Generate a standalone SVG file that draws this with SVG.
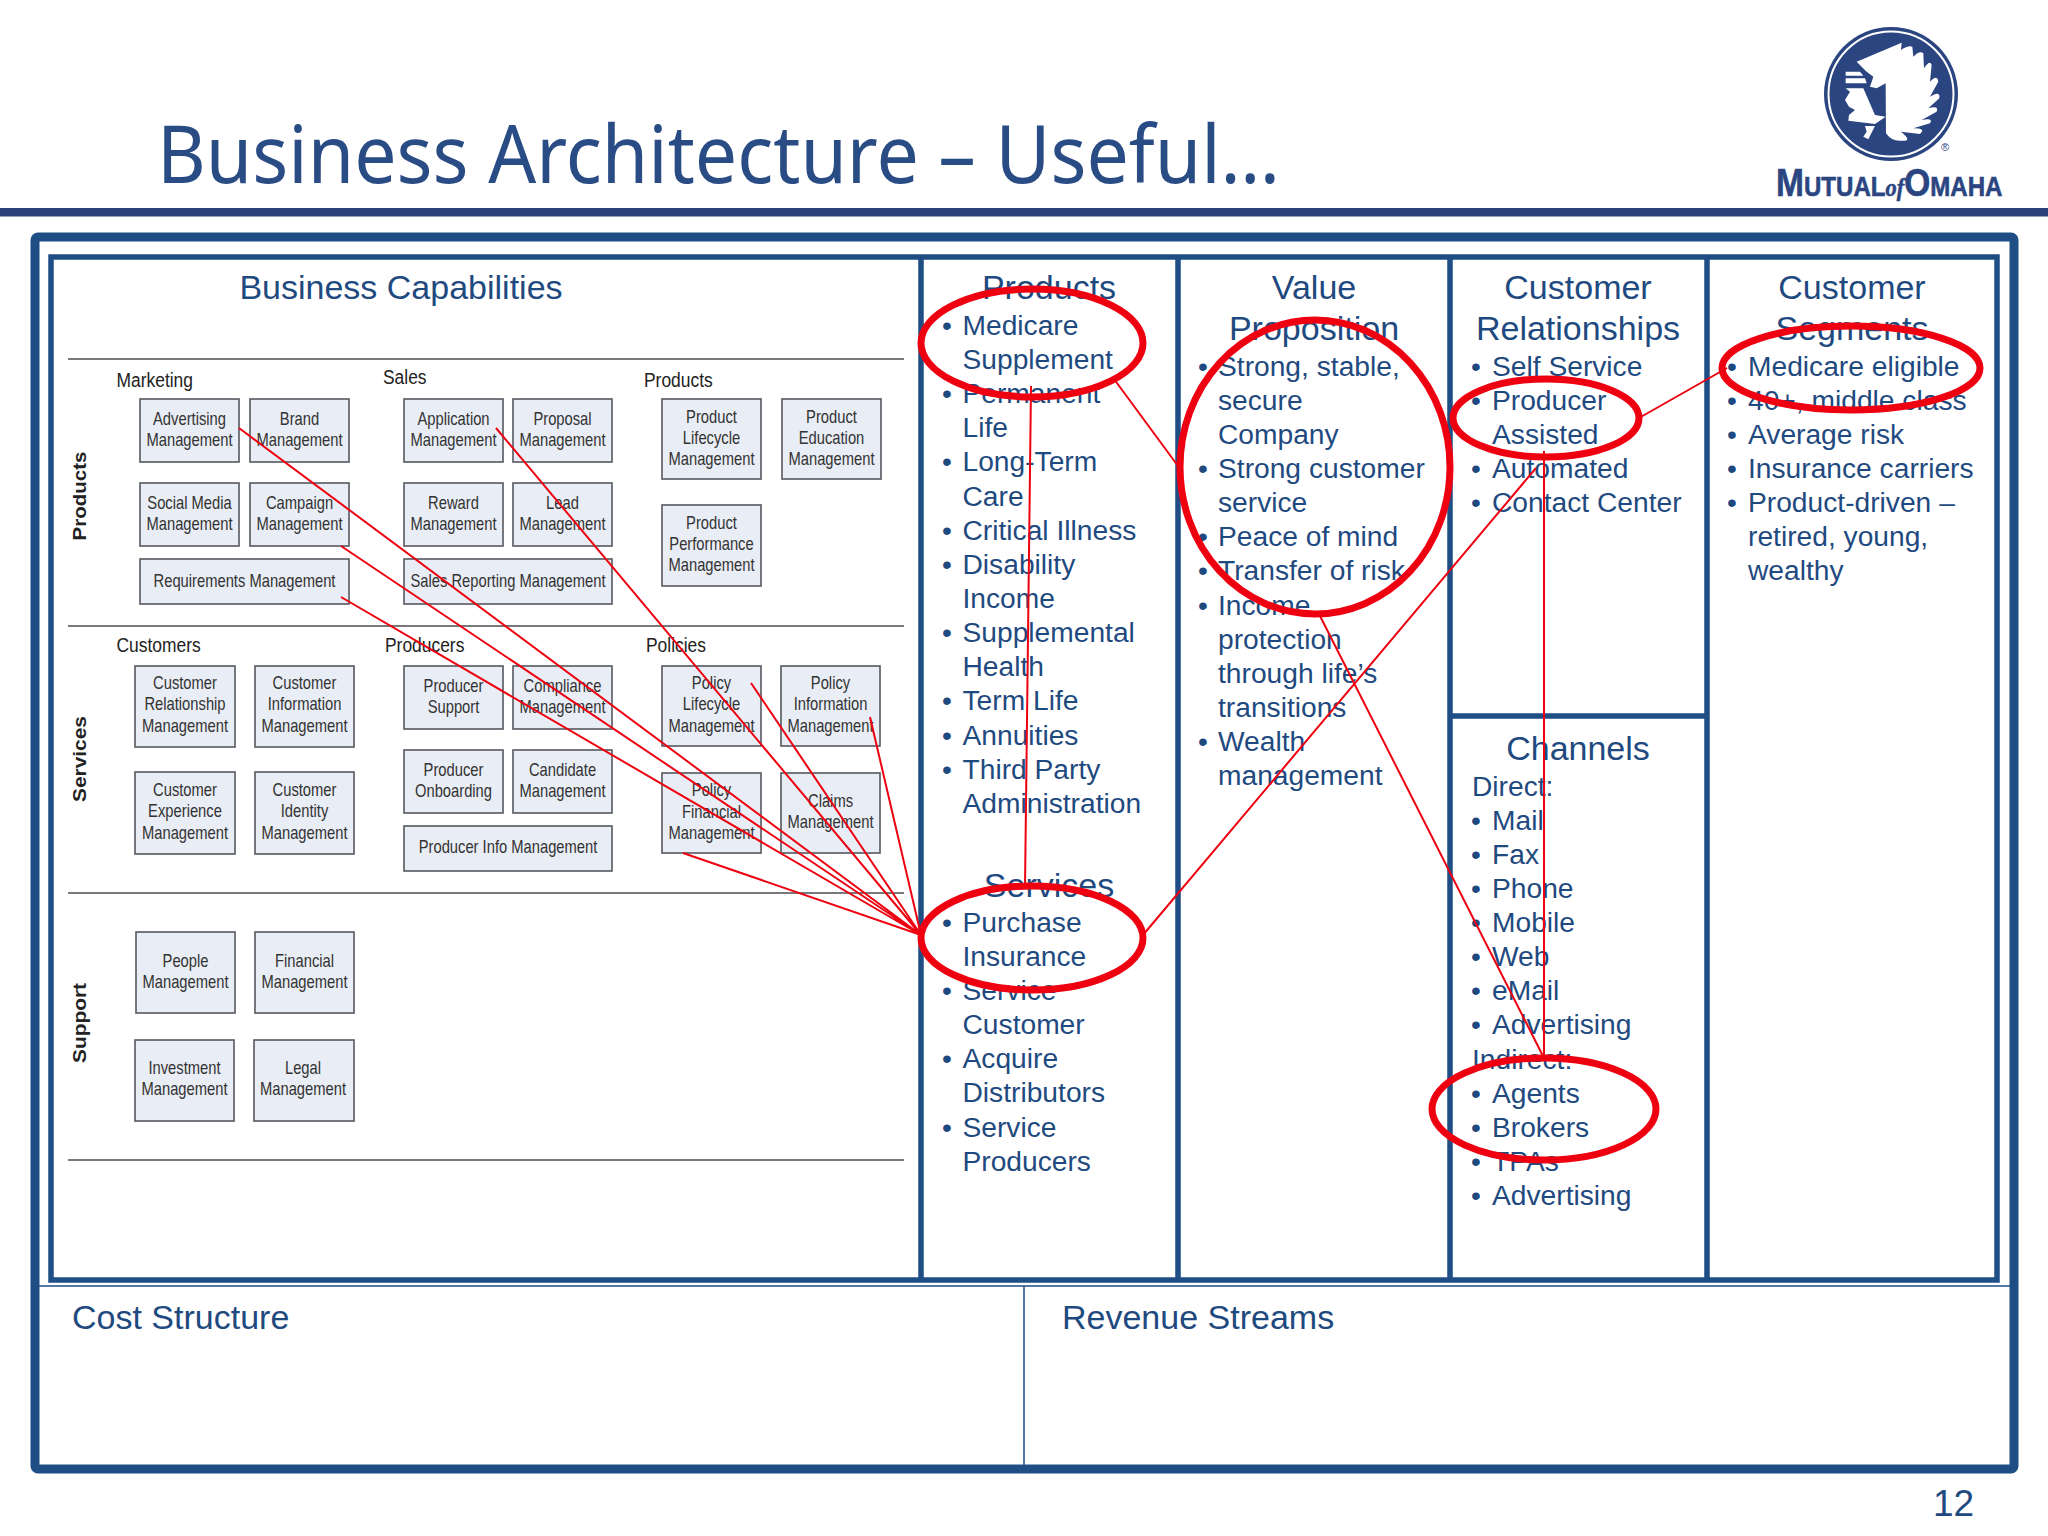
<svg xmlns="http://www.w3.org/2000/svg" width="2048" height="1536" viewBox="0 0 2048 1536">
<style>
text{font-family:"Liberation Sans",Arial,sans-serif}
.h{font-size:34px;fill:#1f4a80;text-anchor:middle}
.b{font-size:28.2px;fill:#1f4a80}
.f{font-size:34px;fill:#1f4a80}
.frame{fill:none;stroke:#1f4e85}
.box{fill:#e9edf5;stroke:#55585f;stroke-width:1.6}
.t{font-size:18px;fill:#333;text-anchor:middle}
.s{font-size:21px;fill:#222}
.r{font-size:18px;font-weight:bold;fill:#222;text-anchor:middle}
.sep{stroke:#77797c;stroke-width:2}
.red{fill:none;stroke:#ee0010;stroke-width:7}
.ln{stroke:#ee0010;stroke-width:2;fill:none}
.lg{fill:#2b4581}
</style>
<rect width="2048" height="1536" fill="#fff"/>
<g id="header">
<text x="157" y="183" style="font-family:'Noto Sans',sans-serif" font-size="80" fill="#2a4c85" textLength="1123" lengthAdjust="spacingAndGlyphs">Business Architecture – Useful…</text>
<rect x="0" y="208" width="2048" height="8.5" fill="#2b3f78"/>
</g>
<g id="logo">
<circle cx="1891" cy="94" r="67" class="lg"/>
<circle cx="1891" cy="94" r="62.500" fill="none" stroke="#fff" stroke-width="2"/>
<g transform="translate(1700,0) scale(.3333)" fill="#fff">
<path d="M470 185L605 128L603 150Q625 135 637 140L640 170Q660 150 670 160L672 205Q690 178 695 195L690 245Q712 222 715 245L690 290Q722 270 718 295L685 325Q718 315 710 335L665 360Q702 352 690 370L640 385Q680 385 660 402L603 395Q640 425 605 422Q575 425 558 400L557 250L530 265L510 260L520 230L500 215Z"/>
<path d="M437 265L490 265L525 345L557 350L525 372L445 362L447 345L465 330L447 320L435 300L450 275Z"/>
<path d="M437 215L480 215L490 227L437 227ZM437 235L495 235L500 250L437 250ZM495 378L525 378L505 418L490 410L500 395Z"/>
</g>
<text x="1941" y="151" font-size="11" fill="#2b4581">®</text>
<text transform="translate(1776 196) scale(.86 1)" font-weight="bold" fill="#2b4581" stroke="#2b4581" stroke-width=".6">
<tspan x="0" font-size="39">M</tspan><tspan font-size="28">UTUAL</tspan><tspan font-size="26" font-style="italic" style="font-family:'Liberation Serif',serif">of</tspan><tspan font-size="39">O</tspan><tspan font-size="28">MAHA</tspan></text>
</g>
<g id="canvas">
<rect x="35" y="237" width="1979" height="1232" class="frame" stroke-width="9" rx="3"/>
<rect x="51" y="257" width="1946" height="1023" class="frame" stroke-width="5.500"/>
<path class="frame" stroke-width="5.500" d="M921 257V1280M1178 257V1280M1450 257V1280M1707 257V1280M1450 716H1707"/>
<path class="frame" stroke-width="1.500" d="M35 1286H2014M1024 1286V1469"/>
</g>
<g id="business-capabilities">
<text class="h" x="401" y="299">Business Capabilities</text>
<path class="sep" d="M68 359H904M68 626H904M68 893H904M68 1160H904"/>
<text class="r" transform="translate(86,496) rotate(-90)" textLength="89" lengthAdjust="spacingAndGlyphs">Products</text>
<text class="r" transform="translate(86,759) rotate(-90)" textLength="86" lengthAdjust="spacingAndGlyphs">Services</text>
<text class="r" transform="translate(86,1023) rotate(-90)" textLength="80" lengthAdjust="spacingAndGlyphs">Support</text>
<text class="s" transform="translate(116.500 387) scale(.83 1)">Marketing</text>
<text class="s" transform="translate(383 384) scale(.83 1)">Sales</text>
<text class="s" transform="translate(644 387) scale(.83 1)">Products</text>
<text class="s" transform="translate(116.500 652) scale(.83 1)">Customers</text>
<text class="s" transform="translate(385 652) scale(.83 1)">Producers</text>
<text class="s" transform="translate(646 652) scale(.83 1)">Policies</text>
</g>
<g id="n-advertising"><rect class="box" x="140" y="399" width="99" height="63"/><text class="t" transform="translate(189.500 -1) scale(.82 1)"><tspan x="0" y="426">Advertising</tspan><tspan x="0" y="447">Management</tspan></text></g>
<g id="n-brand"><rect class="box" x="250" y="399" width="99" height="63"/><text class="t" transform="translate(299.500 -1) scale(.82 1)"><tspan x="0" y="426">Brand</tspan><tspan x="0" y="447">Management</tspan></text></g>
<g id="n-social"><rect class="box" x="140" y="483" width="99" height="63"/><text class="t" transform="translate(189.500 -1) scale(.82 1)"><tspan x="0" y="510">Social Media</tspan><tspan x="0" y="531">Management</tspan></text></g>
<g id="n-campaign"><rect class="box" x="250" y="483" width="99" height="63"/><text class="t" transform="translate(299.500 -1) scale(.82 1)"><tspan x="0" y="510">Campaign</tspan><tspan x="0" y="531">Management</tspan></text></g>
<g id="n-requirements"><rect class="box" x="140" y="559" width="209" height="45"/><text class="t" transform="translate(244.500 587) scale(.82 1)">Requirements Management</text></g>
<g id="n-application"><rect class="box" x="404" y="399" width="99" height="63"/><text class="t" transform="translate(453.500 -1) scale(.82 1)"><tspan x="0" y="426">Application</tspan><tspan x="0" y="447">Management</tspan></text></g>
<g id="n-proposal"><rect class="box" x="513" y="399" width="99" height="63"/><text class="t" transform="translate(562.500 -1) scale(.82 1)"><tspan x="0" y="426">Proposal</tspan><tspan x="0" y="447">Management</tspan></text></g>
<g id="n-reward"><rect class="box" x="404" y="483" width="99" height="63"/><text class="t" transform="translate(453.500 -1) scale(.82 1)"><tspan x="0" y="510">Reward</tspan><tspan x="0" y="531">Management</tspan></text></g>
<g id="n-lead"><rect class="box" x="513" y="483" width="99" height="63"/><text class="t" transform="translate(562.500 -1) scale(.82 1)"><tspan x="0" y="510">Lead</tspan><tspan x="0" y="531">Management</tspan></text></g>
<g id="n-sales-reporting"><rect class="box" x="404" y="559" width="208" height="45"/><text class="t" transform="translate(508 587) scale(.82 1)">Sales Reporting Management</text></g>
<g id="n-product-lifecycle"><rect class="box" x="662" y="399" width="99" height="80"/><text class="t" transform="translate(711.500 -1) scale(.82 1)"><tspan x="0" y="424">Product</tspan><tspan x="0" y="445">Lifecycle</tspan><tspan x="0" y="466">Management</tspan></text></g>
<g id="n-product-education"><rect class="box" x="782" y="399" width="99" height="80"/><text class="t" transform="translate(831.500 -1) scale(.82 1)"><tspan x="0" y="424">Product</tspan><tspan x="0" y="445">Education</tspan><tspan x="0" y="466">Management</tspan></text></g>
<g id="n-product-performance"><rect class="box" x="662" y="505" width="99" height="81"/><text class="t" transform="translate(711.500 -1) scale(.82 1)"><tspan x="0" y="530">Product</tspan><tspan x="0" y="551">Performance</tspan><tspan x="0" y="572">Management</tspan></text></g>
<g id="n-customer-relationship"><rect class="box" x="135" y="666" width="100" height="81"/><text class="t" transform="translate(185 -1) scale(.82 1)"><tspan x="0" y="690">Customer</tspan><tspan x="0" y="711">Relationship</tspan><tspan x="0" y="733">Management</tspan></text></g>
<g id="n-customer-information"><rect class="box" x="255" y="666" width="99" height="81"/><text class="t" transform="translate(304.500 -1) scale(.82 1)"><tspan x="0" y="690">Customer</tspan><tspan x="0" y="711">Information</tspan><tspan x="0" y="733">Management</tspan></text></g>
<g id="n-customer-experience"><rect class="box" x="135" y="772" width="100" height="82"/><text class="t" transform="translate(185 -1) scale(.82 1)"><tspan x="0" y="797">Customer</tspan><tspan x="0" y="818">Experience</tspan><tspan x="0" y="840">Management</tspan></text></g>
<g id="n-customer-identity"><rect class="box" x="255" y="772" width="99" height="82"/><text class="t" transform="translate(304.500 -1) scale(.82 1)"><tspan x="0" y="797">Customer</tspan><tspan x="0" y="818">Identity</tspan><tspan x="0" y="840">Management</tspan></text></g>
<g id="n-producer-support"><rect class="box" x="404" y="666" width="99" height="63"/><text class="t" transform="translate(453.500 -1) scale(.82 1)"><tspan x="0" y="693">Producer</tspan><tspan x="0" y="714">Support</tspan></text></g>
<g id="n-compliance"><rect class="box" x="513" y="666" width="99" height="63"/><text class="t" transform="translate(562.500 -1) scale(.82 1)"><tspan x="0" y="693">Compliance</tspan><tspan x="0" y="714">Management</tspan></text></g>
<g id="n-producer-onboarding"><rect class="box" x="404" y="750" width="99" height="63"/><text class="t" transform="translate(453.500 -1) scale(.82 1)"><tspan x="0" y="777">Producer</tspan><tspan x="0" y="798">Onboarding</tspan></text></g>
<g id="n-candidate"><rect class="box" x="513" y="750" width="99" height="63"/><text class="t" transform="translate(562.500 -1) scale(.82 1)"><tspan x="0" y="777">Candidate</tspan><tspan x="0" y="798">Management</tspan></text></g>
<g id="n-producer-info"><rect class="box" x="404" y="826" width="208" height="45"/><text class="t" transform="translate(508 853) scale(.82 1)">Producer Info Management</text></g>
<g id="n-policy-lifecycle"><rect class="box" x="662" y="666" width="99" height="80"/><text class="t" transform="translate(711.500 -1) scale(.82 1)"><tspan x="0" y="690">Policy</tspan><tspan x="0" y="711">Lifecycle</tspan><tspan x="0" y="733">Management</tspan></text></g>
<g id="n-policy-information"><rect class="box" x="781" y="666" width="99" height="80"/><text class="t" transform="translate(830.500 -1) scale(.82 1)"><tspan x="0" y="690">Policy</tspan><tspan x="0" y="711">Information</tspan><tspan x="0" y="733">Management</tspan></text></g>
<g id="n-policy-financial"><rect class="box" x="662" y="773" width="99" height="80"/><text class="t" transform="translate(711.500 -1) scale(.82 1)"><tspan x="0" y="797">Policy</tspan><tspan x="0" y="819">Financial</tspan><tspan x="0" y="840">Management</tspan></text></g>
<g id="n-claims"><rect class="box" x="781" y="773" width="99" height="80"/><text class="t" transform="translate(830.500 -1) scale(.82 1)"><tspan x="0" y="808">Claims</tspan><tspan x="0" y="829">Management</tspan></text></g>
<g id="n-people"><rect class="box" x="136" y="932" width="99" height="81"/><text class="t" transform="translate(185.500 -1) scale(.82 1)"><tspan x="0" y="968">People</tspan><tspan x="0" y="989">Management</tspan></text></g>
<g id="n-financial"><rect class="box" x="255" y="932" width="99" height="81"/><text class="t" transform="translate(304.500 -1) scale(.82 1)"><tspan x="0" y="968">Financial</tspan><tspan x="0" y="989">Management</tspan></text></g>
<g id="n-investment"><rect class="box" x="135" y="1040" width="99" height="81"/><text class="t" transform="translate(184.500 -1) scale(.82 1)"><tspan x="0" y="1075">Investment</tspan><tspan x="0" y="1096">Management</tspan></text></g>
<g id="n-legal"><rect class="box" x="254" y="1040" width="100" height="81"/><text class="t" transform="translate(303 -1) scale(.82 1)"><tspan x="0" y="1075">Legal</tspan><tspan x="0" y="1096">Management</tspan></text></g>
<g id="products-col">
<text class="h" x="1049" y="299">Products</text>
<text class="b">
<tspan x="942" y="335">•</tspan><tspan x="962.500">Medicare</tspan>
<tspan x="962.500" y="369">Supplement</tspan>
<tspan x="942" y="403">•</tspan><tspan x="962.500">Permanent</tspan>
<tspan x="962.500" y="437">Life</tspan>
<tspan x="942" y="471">•</tspan><tspan x="962.500">Long-Term</tspan>
<tspan x="962.500" y="506">Care</tspan>
<tspan x="942" y="540">•</tspan><tspan x="962.500">Critical Illness</tspan>
<tspan x="942" y="574">•</tspan><tspan x="962.500">Disability</tspan>
<tspan x="962.500" y="608">Income</tspan>
<tspan x="942" y="642">•</tspan><tspan x="962.500">Supplemental</tspan>
<tspan x="962.500" y="676">Health</tspan>
<tspan x="942" y="710">•</tspan><tspan x="962.500">Term Life</tspan>
<tspan x="942" y="745">•</tspan><tspan x="962.500">Annuities</tspan>
<tspan x="942" y="779">•</tspan><tspan x="962.500">Third Party</tspan>
<tspan x="962.500" y="813">Administration</tspan>
</text>
<text class="h" x="1049" y="897">Services</text>
<text class="b">
<tspan x="942" y="932">•</tspan><tspan x="962.500">Purchase</tspan>
<tspan x="962.500" y="966">Insurance</tspan>
<tspan x="942" y="1000">•</tspan><tspan x="962.500">Service</tspan>
<tspan x="962.500" y="1034">Customer</tspan>
<tspan x="942" y="1068">•</tspan><tspan x="962.500">Acquire</tspan>
<tspan x="962.500" y="1102">Distributors</tspan>
<tspan x="942" y="1137">•</tspan><tspan x="962.500">Service</tspan>
<tspan x="962.500" y="1171">Producers</tspan>
</text>
</g>
<g id="value-col">
<text class="h"><tspan x="1314" y="299">Value</tspan><tspan x="1314" y="340">Proposition</tspan></text>
<text class="b">
<tspan x="1198" y="376">•</tspan><tspan x="1218">Strong, stable,</tspan>
<tspan x="1218" y="410">secure</tspan>
<tspan x="1218" y="444">Company</tspan>
<tspan x="1198" y="478">•</tspan><tspan x="1218">Strong customer</tspan>
<tspan x="1218" y="512">service</tspan>
<tspan x="1198" y="546">•</tspan><tspan x="1218">Peace of mind</tspan>
<tspan x="1198" y="580">•</tspan><tspan x="1218">Transfer of risk</tspan>
<tspan x="1198" y="615">•</tspan><tspan x="1218">Income</tspan>
<tspan x="1218" y="649">protection</tspan>
<tspan x="1218" y="683">through life’s</tspan>
<tspan x="1218" y="717">transitions</tspan>
<tspan x="1198" y="751">•</tspan><tspan x="1218">Wealth</tspan>
<tspan x="1218" y="785">management</tspan>
</text>
</g>
<g id="relationships-col">
<text class="h"><tspan x="1578" y="299">Customer</tspan><tspan x="1578" y="340">Relationships</tspan></text>
<text class="b">
<tspan x="1471" y="376">•</tspan><tspan x="1492">Self Service</tspan>
<tspan x="1471" y="410">•</tspan><tspan x="1492">Producer</tspan>
<tspan x="1492" y="444">Assisted</tspan>
<tspan x="1471" y="478">•</tspan><tspan x="1492">Automated</tspan>
<tspan x="1471" y="512">•</tspan><tspan x="1492">Contact Center</tspan>
</text>
</g>
<g id="channels-col">
<text class="h" x="1578" y="760">Channels</text>
<text class="b">
<tspan x="1472" y="796">Direct:</tspan>
<tspan x="1471" y="830">•</tspan><tspan x="1492">Mail</tspan>
<tspan x="1471" y="864">•</tspan><tspan x="1492">Fax</tspan>
<tspan x="1471" y="898">•</tspan><tspan x="1492">Phone</tspan>
<tspan x="1471" y="932">•</tspan><tspan x="1492">Mobile</tspan>
<tspan x="1471" y="966">•</tspan><tspan x="1492">Web</tspan>
<tspan x="1471" y="1000">•</tspan><tspan x="1492">eMail</tspan>
<tspan x="1471" y="1034">•</tspan><tspan x="1492">Advertising</tspan>
<tspan x="1472" y="1069">Indirect:</tspan>
<tspan x="1471" y="1103">•</tspan><tspan x="1492">Agents</tspan>
<tspan x="1471" y="1137">•</tspan><tspan x="1492">Brokers</tspan>
<tspan x="1471" y="1171">•</tspan><tspan x="1492">TPAs</tspan>
<tspan x="1471" y="1205">•</tspan><tspan x="1492">Advertising</tspan>
</text>
</g>
<g id="segments-col">
<text class="h"><tspan x="1852" y="299">Customer</tspan><tspan x="1852" y="340">Segments</tspan></text>
<text class="b">
<tspan x="1727" y="376">•</tspan><tspan x="1748">Medicare eligible</tspan>
<tspan x="1727" y="410">•</tspan><tspan x="1748">40+, middle class</tspan>
<tspan x="1727" y="444">•</tspan><tspan x="1748">Average risk</tspan>
<tspan x="1727" y="478">•</tspan><tspan x="1748">Insurance carriers</tspan>
<tspan x="1727" y="512">•</tspan><tspan x="1748">Product-driven –</tspan>
<tspan x="1748" y="546">retired, young,</tspan>
<tspan x="1748" y="580">wealthy</tspan>
</text>
</g>
<g id="footer">
<text class="f" x="72" y="1329">Cost Structure</text>
<text class="f" x="1062" y="1329">Revenue Streams</text>
<text x="1933" y="1516" font-size="37" fill="#1f4a80">12</text>
</g>
<g id="connectors">
<path class="ln" d="M239 428L921 935M496 428L921 935M341 546L921 935M341 597L921 935M751 683L921 935M870 717L921 935M683 853L921 935"/>
<path class="ln" d="M1031 386L1025 888M1114 379L1178 466M1143 935L1536 468M1319 614L1544 1058M1544 451V1058M1639 418L1727 368"/>
</g>
<g id="highlights">
<ellipse class="red" cx="1032" cy="343" rx="111" ry="54"/>
<ellipse class="red" cx="1032" cy="938" rx="111" ry="52"/>
<ellipse class="red" cx="1315" cy="467" rx="135" ry="147"/>
<ellipse class="red" cx="1546" cy="418" rx="93" ry="39"/>
<ellipse class="red" cx="1851" cy="368" rx="129" ry="42"/>
<ellipse class="red" cx="1544" cy="1109" rx="112" ry="51"/>
</g>
</svg>
